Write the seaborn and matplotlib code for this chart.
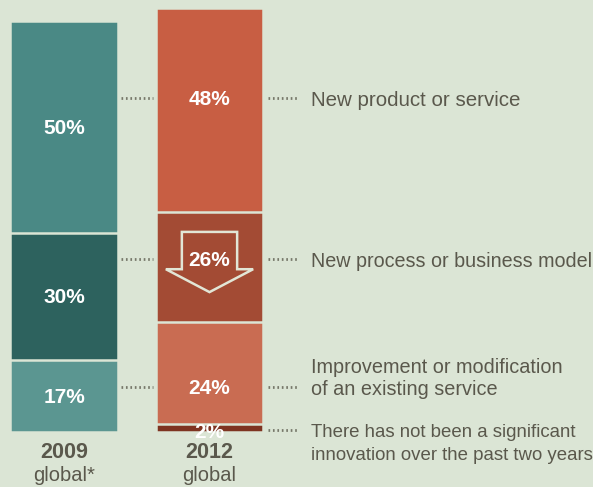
import numpy as np
import pandas as pd
import matplotlib
matplotlib.use("Agg")
import matplotlib.pyplot as plt
import seaborn as sns
from matplotlib.patches import Polygon

# ---------------- data ----------------
years = ["2009", "2012"]
year_sub = ["global*", "global"]
categories = [
    ["New product or service"],
    ["New process or business model"],
    ["Improvement or modification", "of an existing service"],
    ["There has not been a significant", "innovation over the past two years"],
]
values_2009 = [50, 30, 17, np.nan]
values_2012 = [48, 26, 24, 2]

# ---------------- style ----------------
BG = "#dbe5d5"
colors_2009 = ["#4a8985", "#2d625e", "#5b9691", "#5b9691"]
colors_2012 = ["#c85e43", "#a34b34", "#c96c52", "#7e3421"]
TXT = "#5a584c"
LEAD = "#77786a"

sns.set_theme(style="white")
plt.rcParams["font.family"] = ["Liberation Sans", "DejaVu Sans"]

fig = plt.figure(figsize=(5.93, 4.87), dpi=100, facecolor=BG)
ax = fig.add_axes([0, 0, 1, 1], facecolor=BG)

v09 = np.array(values_2009, dtype=float)
v12 = np.array(values_2012, dtype=float)
n = len(categories)
BW = 0.742

# stacked bars: draw cumulative totals from tallest to smallest
for i in range(n):
    rows = []
    pal = {}
    for yr, vals, cols in ((years[0], v09, colors_2009), (years[1], v12, colors_2012)):
        if np.isnan(vals[i]):
            continue
        cum = np.nansum(vals[i:])
        rows.append({"year": yr, "cum": cum})
        pal[yr] = cols[i]
    df = pd.DataFrame(rows)
    sns.barplot(data=df, x="year", y="cum", hue="year", order=years,
                hue_order=[y for y in years if y in pal], palette=pal,
                saturation=1, width=BW, dodge=False, errorbar=None,
                legend=False, edgecolor=BG, linewidth=1.8, ax=ax)

# value labels, 2009 at segment centres
for i in range(n):
    if np.isnan(v09[i]):
        continue
    mid = np.nansum(v09[i + 1:]) + v09[i] / 2
    ax.text(0, mid - 0.3, f"{int(v09[i])}%", ha="center", va="center",
            color="white", fontsize=15, fontweight="bold")

# leader levels (layout) for the 2012 labels
lead_y = [78.8, 40.8, 10.6, 0.4]
for i in range(n):
    ax.text(1, lead_y[i] - 0.4, f"{int(v12[i])}%", ha="center", va="center",
            color="white", fontsize=15, fontweight="bold", zorder=5)
    if i < 3:
        ax.plot([0.392, 0.612], [lead_y[i]] * 2, color=LEAD, lw=2,
                ls=(0, (0.6, 1.0)), solid_capstyle="butt")
    ax.plot([1.402, 1.608], [lead_y[i]] * 2, color=LEAD, lw=2,
            ls=(0, (0.6, 1.0)), clip_on=False)

# right labels
LS = 5.3
line_offsets = [[0], [0], [LS, 0], [0, -LS]]
label_sizes = [14.8, 14.2, 14.3, 13.4]
for i in range(n):
    for line, off in zip(categories[i], line_offsets[i]):
        ax.text(1.698, lead_y[i] + off - 0.6, line, ha="left", va="center",
                color=TXT, fontsize=label_sizes[i], clip_on=False)

# arrow outline in the 2012 second segment
arrow = Polygon([(1 - 0.19, 47.2), (1 + 0.19, 47.2), (1 + 0.19, 38.4),
                 (1 + 0.30, 38.4), (1, 33.0), (1 - 0.30, 38.4),
                 (1 - 0.19, 38.4)], closed=True, fill=False,
                edgecolor="#e2e6d6", lw=1.8, zorder=4)
ax.add_patch(arrow)

# x labels
for x, (yr, sub) in enumerate(zip(years, year_sub)):
    ax.text(x, -4.9, yr, ha="center", va="center", color=TXT,
            fontsize=15.5, fontweight="bold")
    ax.text(x, -10.3, sub, ha="center", va="center", color=TXT, fontsize=14.5)

ax.set_xlim(-0.44, 3.636)
ax.set_ylim(-12.97, 101.9)
ax.axis("off")

fig.savefig("out.png", dpi=100, facecolor=BG)
